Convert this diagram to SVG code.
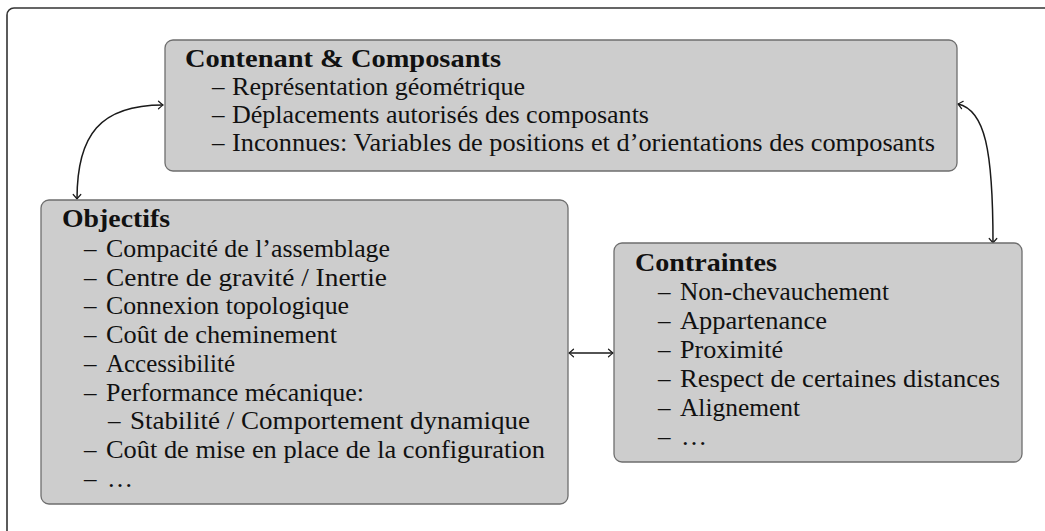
<svg xmlns="http://www.w3.org/2000/svg" width="1045" height="531" viewBox="0 0 1045 531">
  <style>
    .box { fill: #cdcdcd; stroke: #6e6e6e; stroke-width: 1.3; }
    .t { font-family: "Liberation Serif", "Times New Roman", serif; font-size: 25px; fill: #111111; }
    .b { font-weight: bold; }
    .conn { fill: none; stroke: #1a1a1a; stroke-width: 1.5; }
  </style>
  <defs>
    <marker id="arr" viewBox="-6 -5 8 10" markerWidth="8" markerHeight="10" refX="0" refY="0" orient="auto-start-reverse" markerUnits="userSpaceOnUse">
      <path d="M -4.5 -3.8 Q -1.2 -0.8 0 0 Q -1.2 0.8 -4.5 3.8" fill="none" stroke="#1a1a1a" stroke-width="1.2" stroke-linecap="round"/>
    </marker>
  </defs>
  <rect width="1045" height="531" fill="#ffffff"/>
  <rect x="7" y="8" width="1060" height="540" rx="7" fill="none" stroke="#333333" stroke-width="1.6"/>

  <g id="connectors">
    <path class="conn" d="M 163 105 C 100 105, 77 135, 77 199" marker-start="url(#arr)" marker-end="url(#arr)"/>
    <path class="conn" d="M 958 104 C 985 110, 993 150, 993 243" marker-start="url(#arr)" marker-end="url(#arr)"/>
    <path class="conn" d="M 569 353 L 613 353" marker-start="url(#arr)" marker-end="url(#arr)"/>
  </g>

  <g id="node-contenant">
    <rect class="box" x="165" y="40" width="792" height="131" rx="8"/>
    <text class="t b" x="185" y="67" textLength="316" lengthAdjust="spacingAndGlyphs">Contenant &amp; Composants</text>
    <text class="t" x="212" y="95">–</text>
    <text class="t" x="232" y="95" textLength="293" lengthAdjust="spacingAndGlyphs">Représentation géométrique</text>
    <text class="t" x="212" y="123">–</text>
    <text class="t" x="232" y="123" textLength="417" lengthAdjust="spacingAndGlyphs">Déplacements autorisés des composants</text>
    <text class="t" x="212" y="151">–</text>
    <text class="t" x="232" y="151" textLength="703" lengthAdjust="spacingAndGlyphs">Inconnues: Variables de positions et d’orientations des composants</text>
  </g>

  <g id="node-objectifs">
    <rect class="box" x="41" y="200" width="527" height="304" rx="8"/>
    <text class="t b" x="62" y="227" textLength="108" lengthAdjust="spacingAndGlyphs">Objectifs</text>
    <text class="t" x="84" y="257">–</text>
    <text class="t" x="106" y="257" textLength="284" lengthAdjust="spacingAndGlyphs">Compacité de l’assemblage</text>
    <text class="t" x="84" y="285.7">–</text>
    <text class="t" x="106" y="285.7" textLength="281" lengthAdjust="spacingAndGlyphs">Centre de gravité / Inertie</text>
    <text class="t" x="84" y="314.4">–</text>
    <text class="t" x="106" y="314.4" textLength="243" lengthAdjust="spacingAndGlyphs">Connexion topologique</text>
    <text class="t" x="84" y="343.1">–</text>
    <text class="t" x="106" y="343.1" textLength="231" lengthAdjust="spacingAndGlyphs">Coût de cheminement</text>
    <text class="t" x="84" y="371.8">–</text>
    <text class="t" x="106" y="371.8" textLength="129" lengthAdjust="spacingAndGlyphs">Accessibilité</text>
    <text class="t" x="84" y="400.5">–</text>
    <text class="t" x="106" y="400.5" textLength="258" lengthAdjust="spacingAndGlyphs">Performance mécanique:</text>
    <text class="t" x="108" y="429.2">–</text>
    <text class="t" x="130" y="429.2" textLength="400" lengthAdjust="spacingAndGlyphs">Stabilité / Comportement dynamique</text>
    <text class="t" x="84" y="457.9">–</text>
    <text class="t" x="106" y="457.9" textLength="439" lengthAdjust="spacingAndGlyphs">Coût de mise en place de la configuration</text>
    <text class="t" x="84" y="486.6">–</text>
    <text class="t" x="107" y="486.6" textLength="26" lengthAdjust="spacingAndGlyphs">…</text>
  </g>

  <g id="node-contraintes">
    <rect class="box" x="614" y="243" width="408" height="219" rx="8"/>
    <text class="t b" x="635" y="271" textLength="142" lengthAdjust="spacingAndGlyphs">Contraintes</text>
    <text class="t" x="658" y="300">–</text>
    <text class="t" x="680" y="300" textLength="209" lengthAdjust="spacingAndGlyphs">Non-chevauchement</text>
    <text class="t" x="658" y="329">–</text>
    <text class="t" x="680" y="329" textLength="147" lengthAdjust="spacingAndGlyphs">Appartenance</text>
    <text class="t" x="658" y="358">–</text>
    <text class="t" x="680" y="358" textLength="103" lengthAdjust="spacingAndGlyphs">Proximité</text>
    <text class="t" x="658" y="387">–</text>
    <text class="t" x="680" y="387" textLength="320" lengthAdjust="spacingAndGlyphs">Respect de certaines distances</text>
    <text class="t" x="658" y="416">–</text>
    <text class="t" x="680" y="416" textLength="120" lengthAdjust="spacingAndGlyphs">Alignement</text>
    <text class="t" x="658" y="445">–</text>
    <text class="t" x="681" y="445" textLength="26" lengthAdjust="spacingAndGlyphs">…</text>
  </g>
</svg>
